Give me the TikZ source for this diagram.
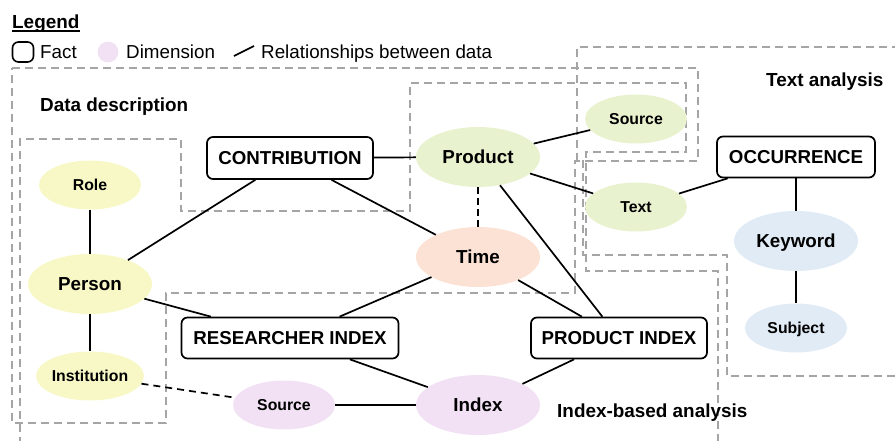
\documentclass[tikz,border=0pt]{standalone}
\usepackage{fontspec}
\setmainfont{Liberation Sans}
\usetikzlibrary{shapes.geometric}
\definecolor{cyellow}{RGB}{247,248,198}
\definecolor{cgreen}{RGB}{233,242,207}
\definecolor{csalmon}{RGB}{252,226,213}
\definecolor{cpurple}{RGB}{242,225,244}
\definecolor{cblue}{RGB}{224,235,245}
\definecolor{cgray}{RGB}{165,165,165}
\begin{document}
\begin{tikzpicture}[x=1pt,y=-1pt,
  region/.style={draw=cgray, line width=1.4pt, dash pattern=on 8pt off 5pt},
  fact/.style={draw, line width=1.7pt, rounded corners=6pt, fill=white, inner sep=0pt,
    font=\fontsize{18.7}{20}\selectfont\bfseries, text height=13.4pt, text depth=0pt},
  bigdim/.style={ellipse, inner sep=0pt, minimum width=124pt, minimum height=60pt,
    font=\fontsize{18.8}{20}\selectfont\bfseries, text height=13.5pt, text depth=0pt},
  smalldim/.style={ellipse, inner sep=0pt, minimum width=102pt, minimum height=49pt,
    font=\fontsize{15.8}{17}\selectfont\bfseries, text height=11.3pt, text depth=0pt},
  rel/.style={line width=1.7pt},
  lbl/.style={anchor=base west, inner sep=0pt, font=\fontsize{18.9}{20}\selectfont\bfseries},
  leg/.style={anchor=base west, inner sep=0pt, font=\fontsize{18.8}{20}\selectfont}
]
\useasboundingbox (0,0) rectangle (895,440);

% regions
\draw[region] (12,68) -- (698,68) -- (698,161) -- (575,161) -- (575,293) -- (166,293) -- (166,423) -- (12,423) -- cycle;
\draw[region] (20,445) -- (20,139) -- (181,139) -- (181,211) -- (410,211) -- (410,83) -- (686,83) -- (686,152) -- (586,152) -- (586,271) -- (718,271) -- (718,445);
\draw[region] (900,47) -- (577,47) -- (577,161) -- (583,161) -- (583,255) -- (727,255) -- (727,376) -- (900,376);

% legend
\node[lbl] (legtitle) at (12,28) {Legend};
\draw[line width=1.2pt] ([yshift=-3pt]legtitle.base west) -- ([yshift=-3pt]legtitle.base east);
\node[draw, line width=1.6pt, rounded corners=6pt, minimum width=21pt, minimum height=20pt, inner sep=0pt] (legfact) at (23,52) {};
\node[leg] (legfacttxt) at (40,58) {Fact};
\node[circle, fill=cpurple, minimum size=21pt, inner sep=0pt] (legdim) at (108,52) {};
\node[leg] (legdimtxt) at (126,58) {Dimension};
\coordinate (lr1) at (234,56);
\coordinate (lr2) at (254,46);
\draw[rel] (lr1) -- (lr2);
\node[leg] (legreltxt) at (261,58) {Relationships between data};

% region labels
\node[lbl] (ldata) at (40,111) {Data description};
\node[lbl] (ltext) at (766,86) {Text analysis};
\node[lbl] (lindex) at (557,417) {Index-based analysis};

% fact nodes
\node[fact, minimum width=166pt, minimum height=42pt] (contrib) at (290,158) {CONTRIBUTION};
\node[fact, minimum width=217pt, minimum height=41pt] (resindex) at (290,338) {RESEARCHER INDEX};
\node[fact, minimum width=176pt, minimum height=41pt] (prodindex) at (619,338) {PRODUCT INDEX};
\node[fact, minimum width=158pt, minimum height=41pt] (occur) at (796,157) {OCCURRENCE};

% dimension nodes
\node[smalldim, fill=cyellow] (role) at (90,185) {Role};
\node[bigdim, fill=cyellow] (person) at (90,284) {Person};
\node[smalldim, fill=cyellow] (inst) at (90,376) {Institution};
\node[smalldim, fill=cpurple] (psource) at (284,405) {Source};
\node[bigdim, fill=cpurple] (index) at (478,405) {Index};
\node[bigdim, fill=cgreen] (product) at (478,157) {Product};
\node[bigdim, fill=csalmon] (time) at (478,257) {Time};
\node[smalldim, fill=cgreen] (gsource) at (636,119) {Source};
\node[smalldim, fill=cgreen] (text) at (636,207) {Text};
\node[bigdim, fill=cblue] (keyword) at (796,241) {Keyword};
\node[smalldim, fill=cblue] (subject) at (796,328) {Subject};

% relationships
\draw[rel] (role) -- (person);
\draw[rel] (person) -- (inst);
\draw[rel] (person) -- (contrib);
\draw[rel] (person) -- (resindex);
\draw[rel] (contrib) -- (product);
\draw[rel] (contrib) -- (time);
\draw[rel] (resindex) -- (time);
\draw[rel] (resindex) -- (index);
\draw[rel, dash pattern=on 7pt off 5pt] (inst) -- (psource);
\draw[rel] (psource) -- (index);
\draw[rel] (index) -- (prodindex);
\draw[rel] (time) -- (prodindex);
\draw[rel] (product) -- (prodindex);
\draw[rel, dash pattern=on 7pt off 4pt] (product) -- (time);
\draw[rel] (product) -- (gsource);
\draw[rel] (product) -- (text);
\draw[rel] (text) -- (occur);
\draw[rel] (occur) -- (keyword);
\draw[rel] (keyword) -- (subject);
\end{tikzpicture}
\end{document}
